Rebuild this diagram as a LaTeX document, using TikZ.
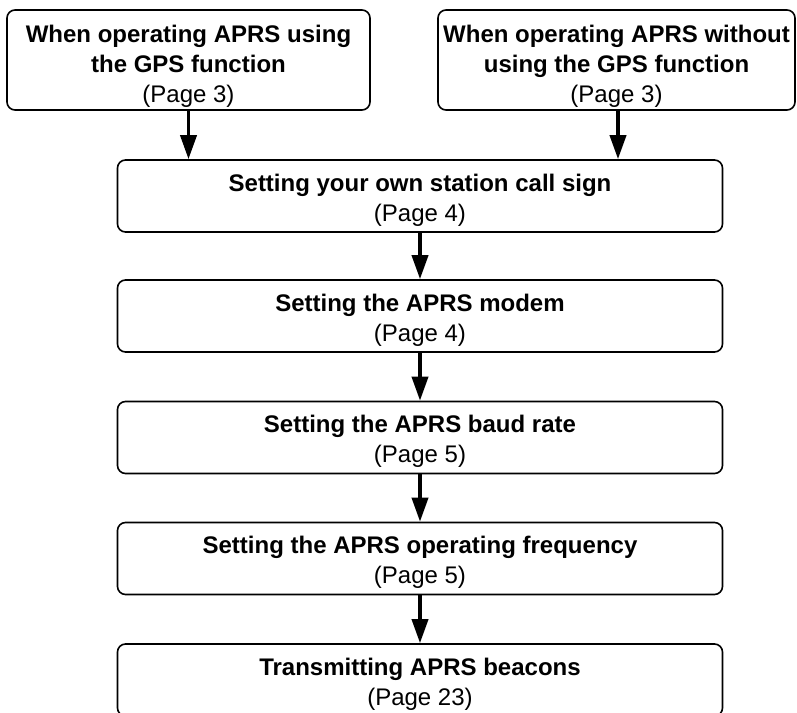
\documentclass[tikz,border=0pt]{standalone}
\usepackage{fontspec}
\setmainfont{Liberation Sans}
\usetikzlibrary{arrows.meta}

\newcommand{\pg}[1]{{\mdseries #1}}
\newcommand{\lowtop}{\rule{0pt}{19pt}}
\newcommand{\lowertop}{\rule{0pt}{23pt}}

\begin{document}
\begin{tikzpicture}[
		x=0.75pt, y=-0.75pt,
		every node/.style={rectangle, draw, rounded corners=6pt, line width=1.2pt,
			align=center, inner sep=0pt, font=\bfseries\fontsize{18}{22.5}\selectfont},
		step box/.style={minimum width=605*0.75pt, minimum height=72*0.75pt},
		flow/.style={line width=2.8pt, -{Triangle[width=12pt, length=18pt]}}
	]
  \useasboundingbox (0,0) rectangle (797,713);
  \node (gps) [minimum width=363*0.75pt, minimum height=100*0.75pt] at (188.5, 60) {\lowertop When operating APRS using\\the GPS function\\\pg{(Page 3)}};
  \node (nogps) [minimum width=357*0.75pt, minimum height=100*0.75pt] at (616.5, 60) {\lowertop When operating APRS without\\using the GPS function\\\pg{(Page 3)}};
  \node (callsign) [step box] at (420, 196) {\lowtop Setting your own station call sign\\\pg{(Page 4)}};
  \node (modem) [step box] at (420, 316) {\lowtop Setting the APRS modem\\\pg{(Page 4)}};
  \node (baud) [step box] at (420, 437.5) {\lowtop Setting the APRS baud rate\\\pg{(Page 5)}};
  \node (freq) [step box] at (420, 558.5) {\lowtop Setting the APRS operating frequency\\\pg{(Page 5)}};
  \node (beacon) [step box] at (420, 680) {\lowtop Transmitting APRS beacons\\\pg{(Page 23)}};
  \draw [flow] (gps.south) -- (gps.south |- callsign.north);
  \draw [flow] ([xshift=1.5*0.75pt]nogps.south) -- ([xshift=1.5*0.75pt]nogps.south |- callsign.north);
  \draw [flow] (callsign) -- (modem);
  \draw [flow] (modem) -- (baud);
  \draw [flow] (baud) -- (freq);
  \draw [flow] (freq) -- (beacon);
\end{tikzpicture}
\end{document}
